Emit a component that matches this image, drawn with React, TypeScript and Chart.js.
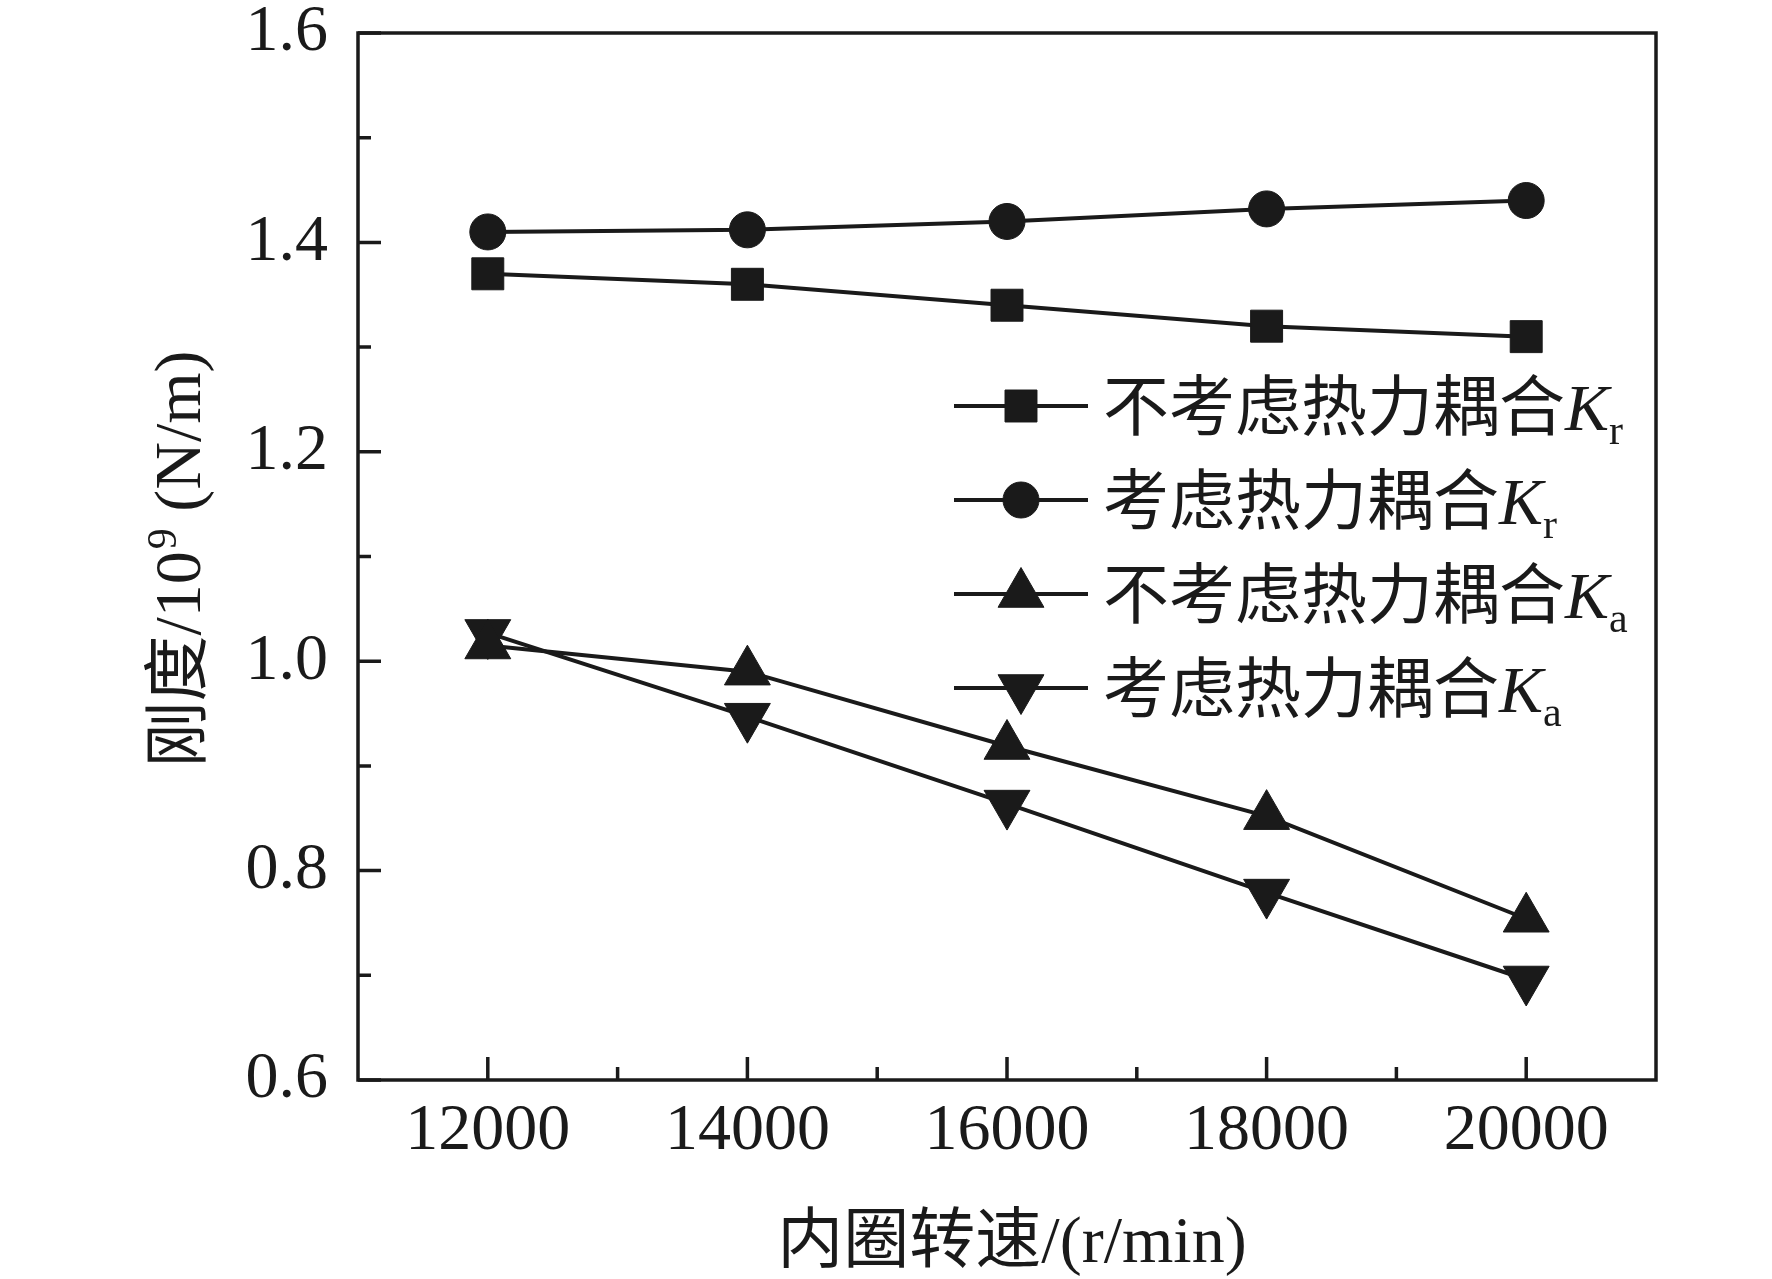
import { useEffect, useRef } from 'react';
import { Chart, registerables } from 'chart.js';
import { drawPoint } from 'chart.js/helpers';

Chart.register(...registerables);

// inner ring speed (r/min)
const speeds = [12000, 14000, 16000, 18000, 20000];
// stiffness, 10^9 N/m
const krNoCoupling = [1.37, 1.36, 1.34, 1.32, 1.31];
const krCoupling = [1.41, 1.412, 1.42, 1.432, 1.44];
const kaNoCoupling = [1.015, 0.99, 0.919, 0.852, 0.754];
const kaCoupling = [1.027, 0.947, 0.864, 0.779, 0.696];

const xTicks = [12000, 14000, 16000, 18000, 20000];
const xMinorTicks = [13000, 15000, 17000, 19000];
const yTicks = [0.6, 0.8, 1.0, 1.2, 1.4, 1.6];
const yMinorTicks = [0.7, 0.9, 1.1, 1.3, 1.5];

const seriesNames = ['不考虑热力耦合', '考虑热力耦合', '不考虑热力耦合', '考虑热力耦合'];
const seriesSubs = ['r', 'r', 'a', 'a'];
const seriesValues = [krNoCoupling, krCoupling, kaNoCoupling, kaCoupling];
const markerStyles = ['rect', 'circle', 'triangle', 'triangle'];
const markerRotations = [0, 0, 0, 180];
const markerRadius = [22.6, 18, 26.5, 26.5];

const INK = '#1a1a1a';
const FONT = "'Liberation Serif', 'Noto Sans CJK SC', serif";
const LINE_W = 4;

const framePlugin = {
  id: 'frame',
  afterDraw(chart: any) {
    const { ctx, chartArea: a, scales } = chart;
    const xs = scales.x;
    const ys = scales.y;
    ctx.save();
    ctx.strokeStyle = INK;
    ctx.fillStyle = INK;
    ctx.lineWidth = 3.5;
    ctx.lineCap = 'butt';
    ctx.strokeRect(a.left, a.top, a.right - a.left, a.bottom - a.top);

    // inward ticks
    ctx.beginPath();
    xTicks.forEach((v) => {
      const px = xs.getPixelForValue(v);
      ctx.moveTo(px, a.bottom);
      ctx.lineTo(px, a.bottom - 23);
    });
    xMinorTicks.forEach((v) => {
      const px = xs.getPixelForValue(v);
      ctx.moveTo(px, a.bottom);
      ctx.lineTo(px, a.bottom - 13);
    });
    yTicks.forEach((v) => {
      const py = ys.getPixelForValue(v);
      ctx.moveTo(a.left, py);
      ctx.lineTo(a.left + 23, py);
    });
    yMinorTicks.forEach((v) => {
      const py = ys.getPixelForValue(v);
      ctx.moveTo(a.left, py);
      ctx.lineTo(a.left + 13, py);
    });
    ctx.stroke();

    // axis titles
    ctx.textBaseline = 'alphabetic';
    ctx.textAlign = 'left';
    const xTitle = '内圈转速/(r/min)';
    ctx.font = `66px ${FONT}`;
    const xw = ctx.measureText(xTitle).width;
    ctx.fillText(xTitle, 1012 - xw / 2, 1262);

    ctx.save();
    ctx.translate(200, 560);
    ctx.rotate(-Math.PI / 2);
    const p1 = '刚度/10';
    const p2 = '9';
    const p3 = ' (N/m)';
    ctx.font = `66px ${FONT}`;
    const w1 = ctx.measureText(p1).width;
    const w3 = ctx.measureText(p3).width;
    ctx.font = `42px ${FONT}`;
    const w2 = ctx.measureText(p2).width;
    let cx = -(w1 + w2 + w3) / 2;
    ctx.font = `66px ${FONT}`;
    ctx.fillText(p1, cx, 0);
    cx += w1 + 2;
    ctx.font = `42px ${FONT}`;
    ctx.fillText(p2, cx, -24);
    cx += w2;
    ctx.font = `66px ${FONT}`;
    ctx.fillText(p3, cx, 0);
    ctx.restore();

    // legend
    seriesNames.forEach((name, i) => {
      const y = 406 + i * 94;
      ctx.lineWidth = LINE_W;
      ctx.beginPath();
      ctx.moveTo(954, y);
      ctx.lineTo(1088, y);
      ctx.stroke();
      ctx.lineWidth = 1;
      drawPoint(
        ctx,
        { pointStyle: markerStyles[i], rotation: markerRotations[i], radius: markerRadius[i], borderWidth: 1 } as any,
        1021,
        y
      );
      let tx = 1103;
      const base = y + 24;
      ctx.font = `66px ${FONT}`;
      ctx.fillText(name, tx, base);
      tx += ctx.measureText(name).width;
      ctx.font = `italic 66px ${FONT}`;
      ctx.fillText('K', tx, base);
      tx += ctx.measureText('K').width;
      ctx.font = `42px ${FONT}`;
      ctx.fillText(seriesSubs[i], tx, base + 14);
    });
    ctx.restore();
  },
};

export default function App() {
  const canvasRef = useRef<HTMLCanvasElement>(null);
  const chartRef = useRef<Chart | null>(null);

  useEffect(() => {
    if (!canvasRef.current) return;
    if (chartRef.current) chartRef.current.destroy();
    chartRef.current = new Chart(canvasRef.current, {
      type: 'line',
      data: {
        datasets: seriesValues.map((vals, i) => ({
          label: seriesNames[i] + 'K' + seriesSubs[i],
          data: speeds.map((s, j) => ({ x: s, y: vals[j] })),
          borderColor: INK,
          backgroundColor: INK,
          borderWidth: LINE_W,
          pointStyle: markerStyles[i] as any,
          pointRotation: markerRotations[i],
          pointRadius: markerRadius[i],
          pointBorderWidth: 1,
          pointBackgroundColor: INK,
          pointBorderColor: INK,
          tension: 0,
        })),
      },
      options: {
        animation: false,
        responsive: false,
        devicePixelRatio: 1,
        layout: { padding: { top: 33, right: 116, left: 0, bottom: 0 } },
        plugins: { legend: { display: false }, tooltip: { enabled: false } },
        scales: {
          x: {
            type: 'linear',
            min: 11000,
            max: 21000,
            grid: { display: false, drawTicks: false },
            border: { display: false },
            afterBuildTicks: (s: any) => {
              s.ticks = xTicks.map((v) => ({ value: v }));
            },
            afterFit: (s: any) => {
              s.height = 199;
              s.paddingLeft = 0;
              s.paddingRight = 0;
            },
            ticks: {
              autoSkip: false,
              maxRotation: 0,
              padding: 19,
              color: INK,
              font: { family: FONT, size: 66, lineHeight: 1 },
              callback: (v: any) => String(v),
            },
          },
          y: {
            type: 'linear',
            min: 0.6,
            max: 1.6,
            grid: { display: false, drawTicks: false },
            border: { display: false },
            afterBuildTicks: (s: any) => {
              s.ticks = yTicks.map((v) => ({ value: v }));
            },
            afterFit: (s: any) => {
              s.width = 358;
              s.paddingTop = 0;
              s.paddingBottom = 0;
            },
            ticks: {
              autoSkip: false,
              padding: 30,
              color: INK,
              font: { family: FONT, size: 66, lineHeight: 1 },
              callback: (v: any) => Number(v).toFixed(1),
            },
          },
        },
      },
      plugins: [framePlugin],
    });
    return () => {
      chartRef.current?.destroy();
      chartRef.current = null;
    };
  }, []);

  return (
    <div style={{ position: 'fixed', left: 0, top: 0, width: 1772, height: 1279, background: '#fff' }}>
      <canvas ref={canvasRef} width={1772} height={1279} style={{ width: 1772, height: 1279 }} />
    </div>
  );
}
